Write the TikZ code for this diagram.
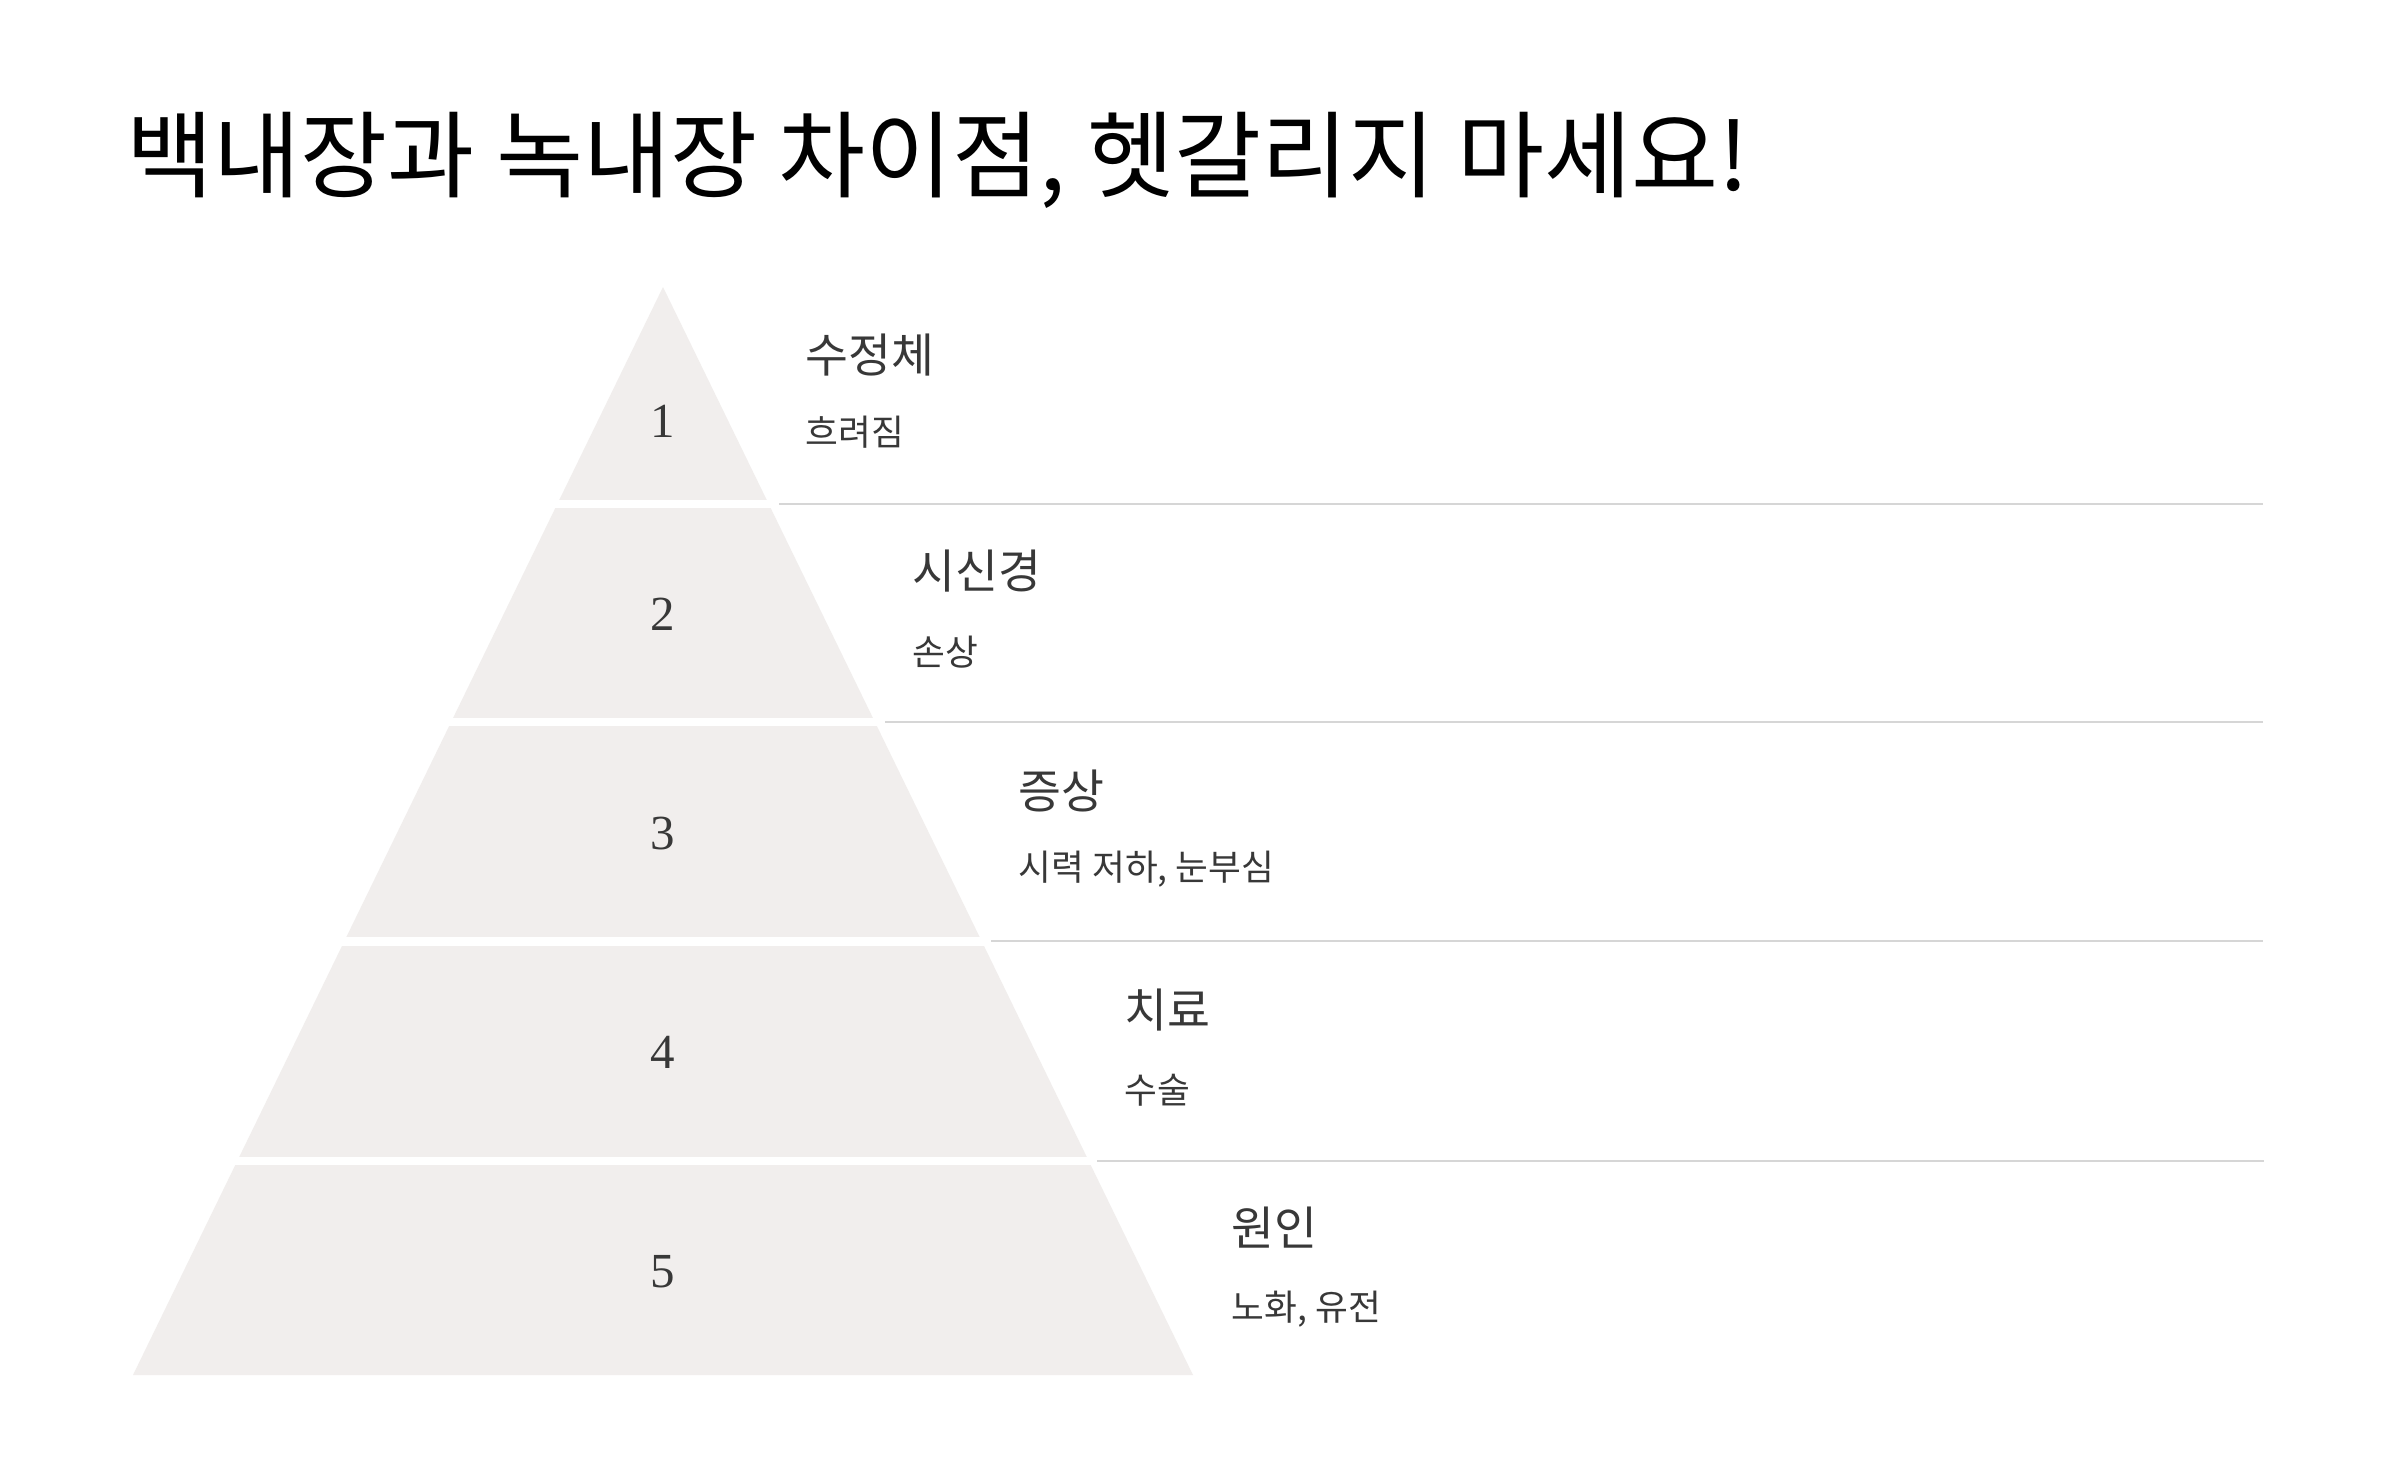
\documentclass[tikz,border=0pt]{standalone}
\usepackage{fontspec}
\setmainfont{Noto Sans CJK KR}
\newfontfamily\numfont{Liberation Serif}
\definecolor{tierfill}{HTML}{F1EEED}
\definecolor{ruleline}{HTML}{D6D6D6}
\definecolor{labeltext}{HTML}{383838}

\def\pyramid{(663,287) -- (133,1375) -- (1193,1375) -- cycle}

\tikzset{
  titletext/.style={anchor=west, inner sep=0pt, font=\fontsize{28.4}{32}\selectfont, text=black},
  headtext/.style={anchor=west, inner sep=0pt, font=\fontsize{14}{17}\selectfont, text=labeltext},
  subtext/.style={anchor=west, inner sep=0pt, font=\fontsize{10.7}{13}\selectfont, text=labeltext},
  tiernum/.style={inner sep=0pt, font=\numfont\fontsize{14.7}{18}\selectfont, text=labeltext},
  gap/.style={fill=white},
  sepline/.style={draw=ruleline, line width=0.6pt}
}

\begin{document}
\begin{tikzpicture}[x=0.3pt, y=-0.3pt]
  \useasboundingbox[fill=white] (0,0) rectangle (2400,1476);
  \node[titletext] (title) at (126,160) {백내장과 녹내장 차이점, 헷갈리지 마세요!};

  \fill[tierfill] \pyramid;
  \fill[gap] (100,500) rectangle (1250,508);
  \fill[gap] (100,718) rectangle (1250,726);
  \fill[gap] (100,937) rectangle (1250,946);
  \fill[gap] (100,1157) rectangle (1250,1165);

  \coordinate (sepA) at (779,504);   \coordinate (sepAend) at (2263,504);
  \coordinate (sepB) at (885,722);   \coordinate (sepBend) at (2263,722);
  \coordinate (sepC) at (991,941);   \coordinate (sepCend) at (2263,941);
  \coordinate (sepD) at (1097,1161); \coordinate (sepDend) at (2264,1161);
  \draw[sepline] (sepA) -- (sepAend);
  \draw[sepline] (sepB) -- (sepBend);
  \draw[sepline] (sepC) -- (sepCend);
  \draw[sepline] (sepD) -- (sepDend);

  \node[tiernum] (numA) at (663,421)  {1};
  \node[tiernum] (numB) at (663,614)  {2};
  \node[tiernum] (numC) at (663,834)  {3};
  \node[tiernum] (numD) at (663,1052) {4};
  \node[tiernum] (numE) at (663,1272) {5};

  \node[headtext] (lensHead)  at (805,355)   {수정체};
  \node[subtext]  (lensSub)   at (805,432)   {흐려짐};
  \node[headtext] (nerveHead) at (912,571)   {시신경};
  \node[subtext]  (nerveSub)  at (912,652)   {손상};
  \node[headtext] (symHead)   at (1018,791)  {증상};
  \node[subtext]  (symSub)    at (1018,869)  {시력 저하, 눈부심};
  \node[headtext] (cureHead)  at (1124,1010) {치료};
  \node[subtext]  (cureSub)   at (1124,1090) {수술};
  \node[headtext] (causeHead) at (1231,1228) {원인};
  \node[subtext]  (causeSub)  at (1231,1309) {노화, 유전};
\end{tikzpicture}
\end{document}
